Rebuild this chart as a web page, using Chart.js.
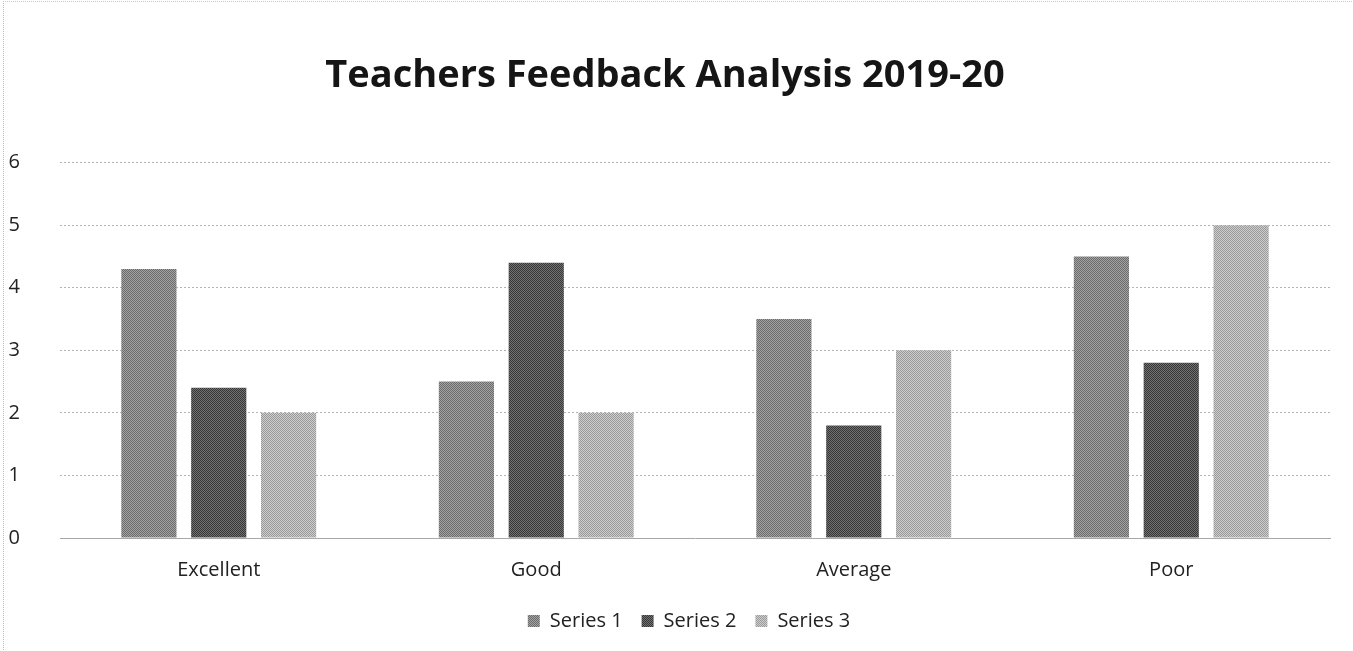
<!DOCTYPE html>
<html>
<head>
<meta charset="utf-8">
<script src="https://cdn.jsdelivr.net/npm/chart.js@4"></script>
<style>
  html, body { margin: 0; padding: 0; background: #fff; }
  #wrap { width: 1353px; height: 651px; position: relative; }
  #frame { position: absolute; left: 3px; top: 1px; width: 1360px; height: 660px;
           border-left: 1px dotted #b8b8b8; border-top: 1px dotted #c8c8c8; pointer-events: none; }
</style>
</head>
<body>
<div id="wrap"><canvas id="feedbackChart"></canvas><div id="frame"></div></div>
<script>
// Chart data
const categories = ["Excellent", "Good", "Average", "Poor"];
const series1 = [4.3, 2.5, 3.5, 4.5];
const series2 = [2.4, 4.4, 1.8, 2.8];
const series3 = [2.0, 2.0, 3.0, 5.0];
const seriesNames = ["Series 1", "Series 2", "Series 3"];
const yTicks = [0, 1, 2, 3, 4, 5, 6];

// Halftone-like fill, like the scanned print
function halftone(dark, light) {
    const c = document.createElement("canvas");
    c.width = 2; c.height = 2;
    const g = c.getContext("2d");
    g.fillStyle = light; g.fillRect(0, 0, 2, 2);
    g.fillStyle = dark; g.fillRect(0, 0, 1, 1); g.fillRect(1, 1, 1, 1);
    return g.createPattern(c, "repeat");
}

// legend sits a little right of centre and a bit higher in the original
const nudgeLegend = {
    id: "nudgeLegend",
    afterLayout(chart) {
        chart.legend.left += 24;
        chart.legend.right += 24;
        chart.legend.top -= 10;
        chart.legend.bottom -= 10;
    }
};

const ctx = document.getElementById("feedbackChart");
const fontFamily = "'Open Sans', 'Liberation Sans', sans-serif";

new Chart(ctx, {
    type: "bar",
    data: {
        labels: categories,
        datasets: [
            { label: seriesNames[0], data: series1, backgroundColor: halftone("#6a6a6a", "#a4a4a4") },
            { label: seriesNames[1], data: series2, backgroundColor: halftone("#363636", "#727272") },
            { label: seriesNames[2], data: series3, backgroundColor: halftone("#9a9a9a", "#cdcdcd") }
        ]
    },
    plugins: [nudgeLegend],
    options: {
        responsive: true,
        maintainAspectRatio: false,
        animation: false,
        datasets: { bar: { categoryPercentage: 0.66, barPercentage: 0.79 } },
        layout: { padding: { left: 0, right: 23, top: 53, bottom: 0 } },
        plugins: {
            title: {
                display: true,
                text: "Teachers Feedback Analysis 2019-20",
                color: "#151515",
                font: { family: fontFamily, size: 38, weight: "bold" },
                padding: { top: 0, bottom: 64 }
            },
            legend: {
                position: "bottom",
                labels: {
                    color: "#222",
                    font: { family: fontFamily, size: 20 },
                    boxWidth: 12,
                    boxHeight: 12,
                    padding: 19
                }
            },
            tooltip: { enabled: false }
        },
        scales: {
            x: {
                grid: { display: false, drawTicks: false },
                border: { color: "#a8a8a8", dash: [2, 2] },
                ticks: { color: "#222", font: { family: fontFamily, size: 20 }, padding: 20 }
            },
            y: {
                min: 0,
                max: 6,
                afterBuildTicks: (scale) => { scale.ticks = yTicks.map(v => ({ value: v })); },
                afterFit: (scale) => { scale.width = 60; },
                grid: { color: "#b4b4b4", drawTicks: false },
                border: { display: false, dash: [2, 2] },
                ticks: {
                    color: "#222",
                    font: { family: fontFamily, size: 20 },
                    padding: 40
                }
            }
        }
    }
});
</script>
</body>
</html>
